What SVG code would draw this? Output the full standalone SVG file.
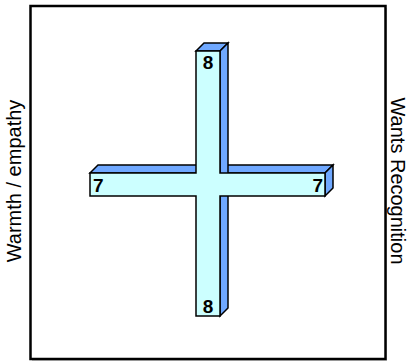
<svg xmlns="http://www.w3.org/2000/svg" width="409" height="363" viewBox="0 0 409 363">
<style>
.front{fill:#CCFFFF;stroke:#000;stroke-width:1.5;stroke-linejoin:miter}
.side{fill:#6FA8FF;stroke:#000;stroke-width:1.5;stroke-linejoin:miter}
.num{font-family:"Liberation Sans",Arial,sans-serif;font-weight:bold;font-size:19px;fill:#000}
.lbl{font-family:"Liberation Sans",Arial,sans-serif;font-size:20px;fill:#000}
</style>
<rect x="32" y="8" width="355" height="353" fill="#c8c8c8"/>
<rect x="30.5" y="6" width="355" height="353" fill="#fff" stroke="#000" stroke-width="2.5"/>
<g id="cross">
<polygon class="side" points="90,173 98,165 333,165 325,173"/>
<polygon class="side" points="325,173 333,165 333,188 325,196"/>
<polygon class="side" points="196,51 204,43 228,43 220,51"/>
<polygon class="side" points="220,51 228,43 228,308 220,316"/>
<polygon class="front" points="196,51 220,51 220,173 325,173 325,196 220,196 220,316 196,316 196,196 90,196 90,173 196,173"/>
</g>
<g id="n-top"><text class="num" x="208" y="69" text-anchor="middle">8</text></g>
<g id="n-bottom"><text class="num" x="208" y="313" text-anchor="middle">8</text></g>
<g id="n-left"><text class="num" x="93" y="192">7</text></g>
<g id="n-right"><text class="num" x="323" y="192" text-anchor="end">7</text></g>
<g id="label-left"><text class="lbl" transform="translate(21,181) rotate(-90)" text-anchor="middle">Warmth / empathy</text></g>
<g id="label-right"><text class="lbl" transform="translate(391,181) rotate(90)" text-anchor="middle">Wants Recognition</text></g>
</svg>
